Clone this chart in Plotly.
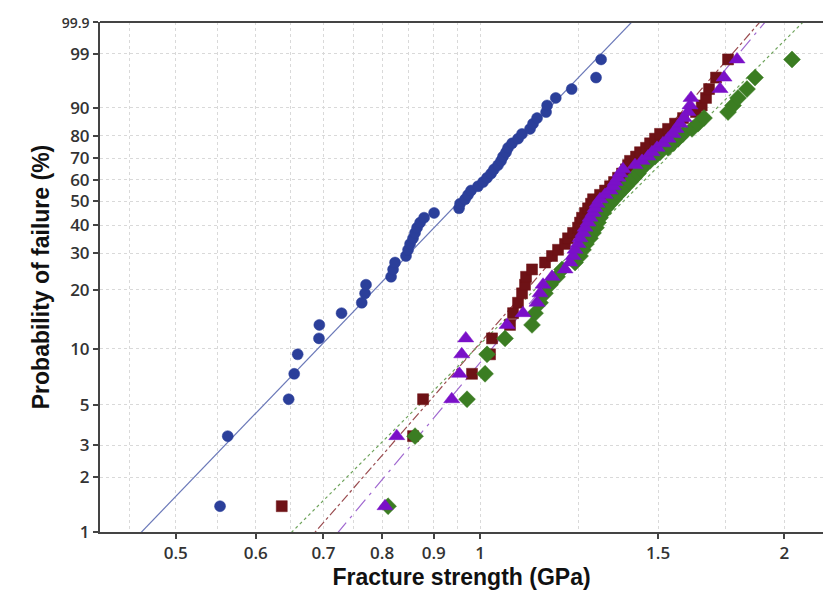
import numpy as np
import plotly.graph_objects as go

# ---------------- data ----------------
y_tick_pct = [1, 2, 3, 5, 10, 20, 30, 40, 50, 60, 70, 80, 90, 99, 99.9]
y_tick_text = ["1", "2", "3", "5", "10", "20", "30", "40", "50", "60", "70", "80", "90", "99",
               "<span style='font-size:14px'>99.9</span>"]
x_tick_vals = [0.5, 0.6, 0.7, 0.8, 0.9, 1.0, 1.5, 2.0]
x_tick_text = ["0.5", "0.6", "0.7", "0.8", "0.9", "1", "1.5", "2"]
x_minor_grid = [0.45, 0.55, 0.65, 0.75, 0.85, 0.95, 1.25, 1.75]

# fracture strengths (GPa), sorted, 50 specimens per series
blue_strength = [0.5531, 0.5629, 0.6467, 0.6549, 0.6601, 0.6929, 0.6935, 0.7295, 0.7638, 0.7696,
                 0.7713, 0.8166, 0.8203, 0.8240, 0.8448, 0.8488, 0.8527, 0.8584, 0.8624, 0.8664,
                 0.8724, 0.8804, 0.9006, 0.9533, 0.9555, 0.9665, 0.9730, 0.9797, 0.9954, 1.0069,
                 1.0161, 1.0254, 1.0323, 1.0418, 1.0490, 1.0537, 1.0610, 1.0659, 1.0757, 1.0904,
                 1.1003, 1.1206, 1.1283, 1.1387, 1.1623, 1.1650, 1.1883, 1.2322, 1.3024, 1.3175]
red_strength = [0.6366, 0.8585, 0.8783, 0.9819, 1.0230, 1.0277, 1.0707, 1.0781, 1.0904, 1.1004,
                1.1079, 1.1105, 1.1257, 1.1595, 1.1782, 1.1944, 1.2136, 1.2219, 1.2359, 1.2501,
                1.2558, 1.2615, 1.2701, 1.2789, 1.2876, 1.2936, 1.3143, 1.3294, 1.3446, 1.3569,
                1.3693, 1.3818, 1.3945, 1.4009, 1.4072, 1.4266, 1.4397, 1.4595, 1.4729, 1.4897,
                1.5068, 1.5345, 1.5591, 1.5878, 1.6355, 1.6569, 1.6732, 1.6848, 1.7118, 1.7592]
purple_strength = [0.8054, 0.8272, 0.9376, 0.9540, 0.9592, 0.9680, 1.0634, 1.1029, 1.1386, 1.1465,
                   1.1543, 1.1782, 1.2136, 1.2275, 1.2359, 1.2416, 1.2501, 1.2558, 1.2644, 1.2701,
                   1.2789, 1.2847, 1.2936, 1.2994, 1.3054, 1.3143, 1.3294, 1.3446, 1.3538, 1.3600,
                   1.3693, 1.3756, 1.3850, 1.4233, 1.4463, 1.4661, 1.4795, 1.4965, 1.5171, 1.5345,
                   1.5521, 1.5627, 1.5770, 1.5914, 1.6060, 1.6133, 1.6170, 1.7274, 1.7432, 1.7956]
green_strength = [0.8110, 0.8624, 0.9708, 1.0115, 1.0161, 1.0586, 1.1257, 1.1335, 1.1465, 1.1595,
                  1.1728, 1.1917, 1.2053, 1.2416, 1.2558, 1.2644, 1.2730, 1.2847, 1.2936, 1.3024,
                  1.3083, 1.3143, 1.3233, 1.3324, 1.3446, 1.3569, 1.3693, 1.3818, 1.3945, 1.4072,
                  1.4201, 1.4331, 1.4429, 1.4562, 1.4729, 1.4897, 1.5068, 1.5345, 1.5521, 1.5698,
                  1.5878, 1.6207, 1.6430, 1.6656, 1.7592, 1.7793, 1.7997, 1.8370, 1.8708, 2.0352]

# Weibull fit parameters (modulus m, characteristic strength s0 in GPa)
weibull_modulus = [5.85, 6.45, 6.72, 5.61]
weibull_scale = [1.0155, 1.402, 1.436, 1.479]

# ---------------- styling ----------------
series = [
    dict(x=blue_strength, color="#2b3f9a", symbol="circle", size=11,
         lcolor="#6a78b8", dash="solid"),
    dict(x=red_strength, color="#6e1216", symbol="square", size=11,
         lcolor="#9a4c50", dash="dashdot"),
    dict(x=green_strength, color="#3b7d22", symbol="diamond", size=13,
         lcolor="#6fa45c", dash="3px,3px"),
    dict(x=purple_strength, color="#7a10c8", symbol="triangle-up", size=14,
         lcolor="#a068d0", dash="longdashdot"),
]
fit_index = [0, 1, 3, 2]


def wt(p):
    p = np.asarray(p, dtype=float)
    return np.log(-np.log(1.0 - p))


x_lo, x_hi = 0.4208, 2.184
y_lo, y_hi = wt(0.01), wt(0.999)

fig = go.Figure()

# fit lines
for s, k in zip(series, fit_index):
    m, s0 = weibull_modulus[k], weibull_scale[k]
    xs = np.array([0.3, 2.6])
    ts = m * np.log(xs / s0)
    fig.add_trace(go.Scatter(x=xs, y=ts, mode="lines",
                             line=dict(color=s["lcolor"], width=1.2, dash=s["dash"]),
                             hoverinfo="skip", showlegend=False))

# data points
for s in series:
    x = np.sort(np.asarray(s["x"]))
    n = len(x)
    F = (np.arange(1, n + 1) - 0.3) / (n + 0.4)
    fig.add_trace(go.Scatter(x=x, y=wt(F), mode="markers",
                             marker=dict(color=s["color"], symbol=s["symbol"], size=s["size"],
                                         line=dict(color=s["color"], width=0.5)),
                             showlegend=False))

grid = dict(gridcolor="#d9d9d9", griddash="3px,3px", gridwidth=1)
tfont = dict(family="Open Sans", size=17, color="#333", weight=600)

fig.update_xaxes(type="log", range=[np.log10(x_lo), np.log10(x_hi)],
                 tickvals=x_tick_vals, ticktext=x_tick_text,
                 ticks="outside", ticklen=5, tickwidth=1.5, tickcolor="#444",
                 showline=True, linecolor="#444", linewidth=2,
                 showgrid=True, **grid,
                 minor=dict(tickvals=x_minor_grid, showgrid=True, ticks="",
                            gridcolor="#d9d9d9", griddash="3px,3px", gridwidth=1),
                 tickfont=tfont,
                 title=dict(text="<b>Fracture strength (GPa)</b>", standoff=4,
                            font=dict(family="Liberation Sans", size=23, color="#111")),
                 zeroline=False)

fig.update_yaxes(range=[y_lo, y_hi],
                 tickvals=list(wt(np.array(y_tick_pct) / 100.0)), ticktext=y_tick_text,
                 ticks="outside", ticklen=5, tickwidth=1.5, tickcolor="#444",
                 showline=True, linecolor="#444", linewidth=2,
                 showgrid=True, **grid,
                 tickfont=tfont,
                 title=dict(text="<b>Probability of failure (%)</b>", standoff=6,
                            font=dict(family="Liberation Sans", size=23, color="#111")),
                 zeroline=False)

fig.add_shape(type="line", xref="paper", yref="paper", x0=0, x1=1, y0=1, y1=1,
              line=dict(color="#444", width=2))

fig.update_layout(width=823, height=592,
                  margin=dict(l=100, r=0, t=22, b=60),
                  plot_bgcolor="white", paper_bgcolor="white")

fig.write_html("out.html", config={"displayModeBar": False},
               post_script="document.body.style.margin='0';")
